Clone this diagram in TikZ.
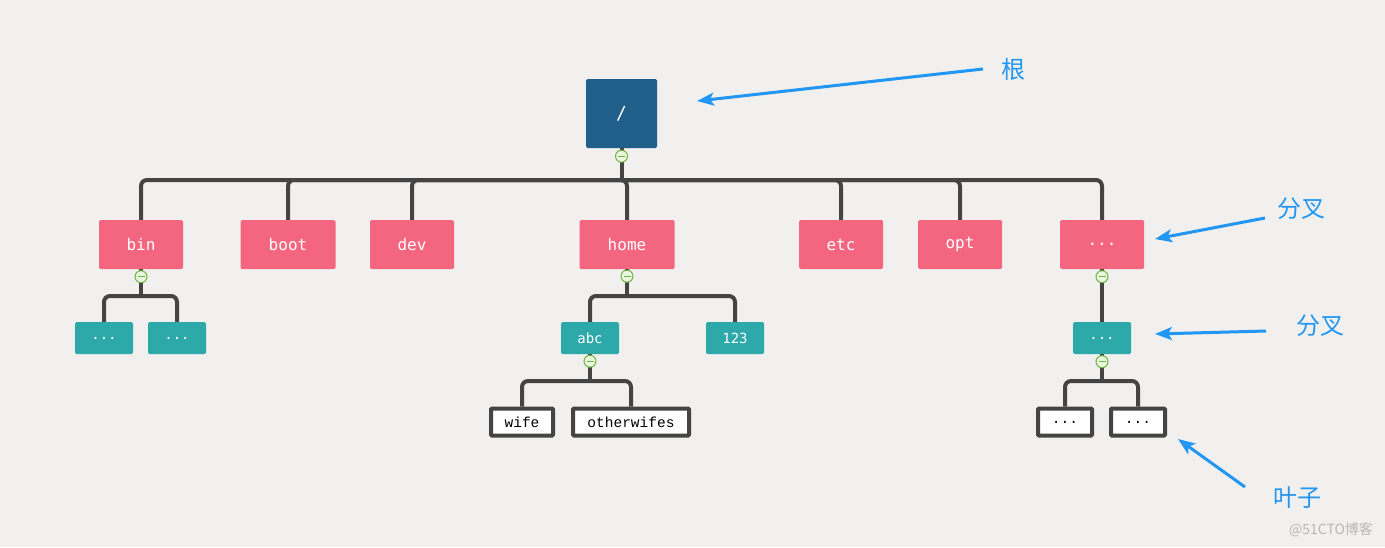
\documentclass[tikz,border=0pt]{standalone}
\usepackage{fontspec}
\usepackage{tikz}
\usetikzlibrary{arrows.meta, positioning}
\newfontfamily\boxfont{DejaVu Sans Mono}
\newfontfamily\leaffont{Liberation Mono}
\newfontfamily\cjk{Noto Sans CJK SC}
\definecolor{bgcol}{HTML}{F1F0EE}
\definecolor{rootblue}{HTML}{1F5F89}
\definecolor{dirpink}{HTML}{F4667F}
\definecolor{dirteal}{HTML}{2EA9A9}
\definecolor{linegray}{HTML}{444444}
\definecolor{foldgreen}{HTML}{6DB33F}
\definecolor{foldfill}{HTML}{EAF6DE}
\definecolor{arrowblue}{HTML}{2196F3}

\begin{document}
\begin{tikzpicture}[x=1pt, y=-1pt,
rootbox/.style={
    rectangle,
    rounded corners=1.5pt,
    fill=rootblue,
    text=white,
    minimum width=71pt,
    minimum height=69pt,
    font=\boxfont\fontsize{18}{20}\selectfont
},
dir/.style={
    rectangle,
    rounded corners=1.5pt,
    fill=dirpink,
    text=white,
    inner sep=0pt,
    minimum width=84pt,
    minimum height=49pt,
    font=\boxfont\fontsize{16}{18}\selectfont
},
sub/.style={
    rectangle,
    rounded corners=1.5pt,
    fill=dirteal,
    text=white,
    inner sep=0pt,
    minimum width=58pt,
    minimum height=32pt,
    font=\boxfont\fontsize{14}{16}\selectfont
},
leaf/.style={
    draw=linegray,
    line width=4pt,
    rounded corners=1pt,
    fill=white,
    inner sep=0pt,
    minimum width=54pt,
    minimum height=27pt,
    font=\leaffont\fontsize{14.5}{16}\selectfont
},
fold/.style={
    circle,
    draw=foldgreen,
    fill=foldfill,
    line width=1pt,
    inner sep=0pt,
    minimum size=12pt,
    path picture={\draw[foldgreen, line width=1.3pt]
        ([xshift=-3.5pt]path picture bounding box.center) --
        ([xshift=3.5pt]path picture bounding box.center);}
},
link/.style={draw=linegray, line width=4pt, rounded corners=6pt},
pointer/.style={draw=arrowblue, line width=3pt, -{Stealth[length=17pt, width=13pt, inset=4pt]}},
note/.style={text=arrowblue, font=\cjk\fontsize{24}{28}\selectfont}
]

% Background
\fill[bgcol] (0,0) rectangle (1385,547);

% Root
\node[rootbox] (root) at (621.5,113.5) {/};

% First level
\node[dir] (bin) at (141,244.5) {bin};
\node[dir, minimum width=95pt] (boot) at (288,244.5) {boot};
\node[dir] (dev) at (412,244.5) {dev};
\node[dir, minimum width=95pt] (home) at (627,244.5) {home};
\node[dir] (etc) at (841,244.5) {etc};
\node[dir] (opt) at (960,244.5) {opt};
\node[dir] (more) at (1102,244.5) {...};

% Second level
\node[sub] (bina) at (104,338) {...};
\node[sub] (binb) at (177,338) {...};
\node[sub] (abc) at (590,338) {abc};
\node[sub] (num) at (735,338) {123};
\node[sub] (moresub) at (1102,338) {...};

% Leaves
\node[leaf, minimum width=62pt] (wife) at (522,422) {wife};
\node[leaf, minimum width=116pt] (otherwifes) at (631,422) {otherwifes};
\node[leaf] (leafa) at (1065,422) {...};
\node[leaf] (leafb) at (1138,422) {...};

% Bars
\coordinate (rootbar) at (621.5,180);
\coordinate (binbar) at (141,296);
\coordinate (homebar) at (627,296);
\coordinate (abcbar) at (590,381);
\coordinate (morebar) at (1102,381);

% Connectors
\draw[link] (root.south) -- (rootbar);
\draw[link] (rootbar) -| (bin.north);
\draw[link] (rootbar) -| (boot.north);
\draw[link] (rootbar) -| (dev.north);
\draw[link] (rootbar) -| (home.north);
\draw[link] (rootbar) -| (etc.north);
\draw[link] (rootbar) -| (opt.north);
\draw[link] (rootbar) -| (more.north);
\draw[link] (bin.south) -- (binbar);
\draw[link] (binbar) -| (bina.north);
\draw[link] (binbar) -| (binb.north);
\draw[link] (home.south) -- (homebar);
\draw[link] (homebar) -| (abc.north);
\draw[link] (homebar) -| (num.north);
\draw[link] (abc.south) -- (abcbar);
\draw[link] (abcbar) -| (wife.north);
\draw[link] (abcbar) -| (otherwifes.north);
\draw[link] (more.south) -- (moresub.north);
\draw[link] (moresub.south) -- (morebar);
\draw[link] (morebar) -| (leafa.north);
\draw[link] (morebar) -| (leafb.north);

% Fold markers
\node[fold] (rootfold) at ([yshift=-8pt]root.south) {};
\node[fold] (binfold) at ([yshift=-7.5pt]bin.south) {};
\node[fold] (homefold) at ([yshift=-7pt]home.south) {};
\node[fold] (abcfold) at ([yshift=-7pt]abc.south) {};
\node[fold] (morefold) at ([yshift=-7.5pt]more.south) {};
\node[fold] (moresubfold) at ([yshift=-7.5pt]moresub.south) {};

% Notes
\node[note] (rootnote) at (1013,69) {根};
\node[note] (branchnote) at (1301,209) {分叉};
\node[note] (subnote) at (1320,326) {分叉};
\node[note] (leafnote) at (1297,498) {叶子};
\coordinate (roottail) at (983,69);
\coordinate (branchtail) at (1265,218);
\coordinate (subtail) at (1266,331);
\coordinate (leaftail) at (1245,487);
\coordinate (roottip) at (697,101);
\coordinate (branchtip) at (1155,239);
\coordinate (subtip) at (1155,334);
\coordinate (leaftip) at (1178,439);
\draw[pointer] (roottail) -- (roottip);
\draw[pointer] (branchtail) -- (branchtip);
\draw[pointer] (subtail) -- (subtip);
\draw[pointer] (leaftail) -- (leaftip);

\node[text=black!28, font=\cjk\fontsize{14}{16}\selectfont] (watermark) at (1331,530) {@51CTO博客};

\end{tikzpicture}
\end{document}
